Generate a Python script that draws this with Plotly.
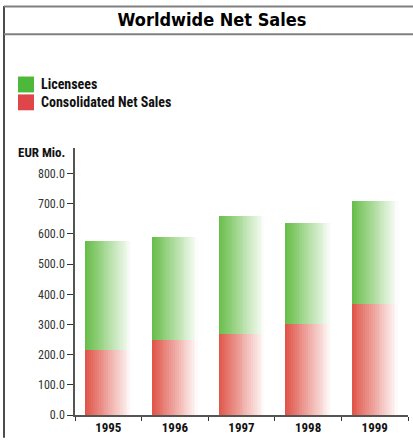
import plotly.graph_objects as go

# Worldwide net sales, EUR millions
years = ["1995", "1996", "1997", "1998", "1999"]
consolidated = [215, 250, 270, 303, 367]
licensees = [363, 341, 391, 334, 343]

y_ticks = [0, 100, 200, 300, 400, 500, 600, 700, 800]

series_names = ["Licensees", "Consolidated Net Sales"]
legend_colors = ["#4cb93a", "#e0454a"]

FONT = "Roboto Condensed, DejaVu Sans Condensed, sans-serif"
TITLE_FONT = "DejaVu Sans Condensed, Roboto Condensed, sans-serif"
W, H = 413, 440
ML, MR, MT, MB = 75, 5, 148, 23

BAR_W = 0.69      # bar width in category units
N_SLICES = 24     # slices used to build the horizontal fade


def blend(rgb, t):
    """Mix rgb toward white by fraction t."""
    r, g, b = (round(c + (255 - c) * t) for c in rgb)
    return f"rgb({r},{g},{b})"


RED = (224, 86, 74)
GREEN = (104, 190, 74)

fig = go.Figure()

# Each bar is painted as overlapping vertical slices, left to right,
# getting lighter toward the right edge.
for series, base, rgb in ((consolidated, [0] * len(consolidated), RED),
                          (licensees, consolidated, GREEN)):
    step = BAR_W / N_SLICES
    for i in range(N_SLICES):
        fig.add_trace(go.Bar(
            x=years,
            y=series,
            base=base,
            offset=-BAR_W / 2 + i * step,
            width=BAR_W - i * step,
            marker=dict(color=blend(rgb, i / (N_SLICES - 1) * 0.97),
                        line=dict(width=0)),
            showlegend=False,
            hoverinfo="skip",
        ))


def px_x(p):
    return (p - ML) / (W - ML - MR)


def px_y(p):
    return (H - MB - p) / (H - MT - MB)


def hline(x0, x1, y, color, w):
    return dict(type="line", xref="paper", yref="paper",
                x0=px_x(x0), x1=px_x(x1), y0=px_y(y), y1=px_y(y),
                line=dict(color=color, width=w), layer="above")


shapes = [
    # frame: left border, top border, title separator
    dict(type="line", xref="paper", yref="paper",
         x0=px_x(4), x1=px_x(4), y0=px_y(5), y1=px_y(440),
         line=dict(color="#111", width=1.5), layer="above"),
    hline(4, 413, 5.5, "#808080", 2),
    hline(4, 413, 33.5, "#808080", 2),
]

annotations = [dict(text="<b>EUR Mio.</b>", xref="paper", yref="paper",
                    x=px_x(67), xanchor="right", y=px_y(153), yanchor="middle",
                    showarrow=False,
                    font=dict(family=FONT, size=13, color="#111"))]

# Legend: colour swatches with labels
for k, (name, color) in enumerate(zip(series_names, legend_colors)):
    top = 76 + 18 * k
    shapes.append(dict(type="rect", xref="paper", yref="paper",
                       x0=px_x(18), x1=px_x(34), y0=px_y(top), y1=px_y(top + 16),
                       fillcolor=color, line=dict(width=0)))
    annotations.append(dict(text=f"<b>{name}</b>", xref="paper", yref="paper",
                            x=px_x(39), xanchor="left", y=px_y(top + 8),
                            yanchor="middle", showarrow=False,
                            font=dict(family=FONT, size=14, color="#111")))

fig.update_layout(
    width=W, height=H,
    margin=dict(l=ML, r=MR, t=MT, b=MB),
    paper_bgcolor="white", plot_bgcolor="white",
    barmode="overlay",
    bargap=0,
    showlegend=False,
    shapes=shapes,
    annotations=annotations,
    title=dict(text="Worldwide Net Sales", xref="container", yref="container",
               x=212 / W, xanchor="center", y=1 - 20 / H, yanchor="middle",
               font=dict(family=TITLE_FONT, size=18, color="#000", weight="bold")),
    xaxis=dict(type="category", tickson="boundaries", ticks="outside",
               ticklen=4, tickcolor="#333", showline=True, linecolor="#555",
               linewidth=1.5, showgrid=False, zeroline=False,
               tickfont=dict(family=FONT, size=13, color="#111", weight="bold")),
    yaxis=dict(range=[0, 885], tickvals=y_ticks, tickformat=".1f",
               ticks="outside", ticklen=6, tickcolor="#333", showline=True,
               linecolor="#555", linewidth=1.5, showgrid=False, zeroline=False,
               tickfont=dict(family=FONT, size=12, color="#333")),
)

fig.write_html("out.html")
